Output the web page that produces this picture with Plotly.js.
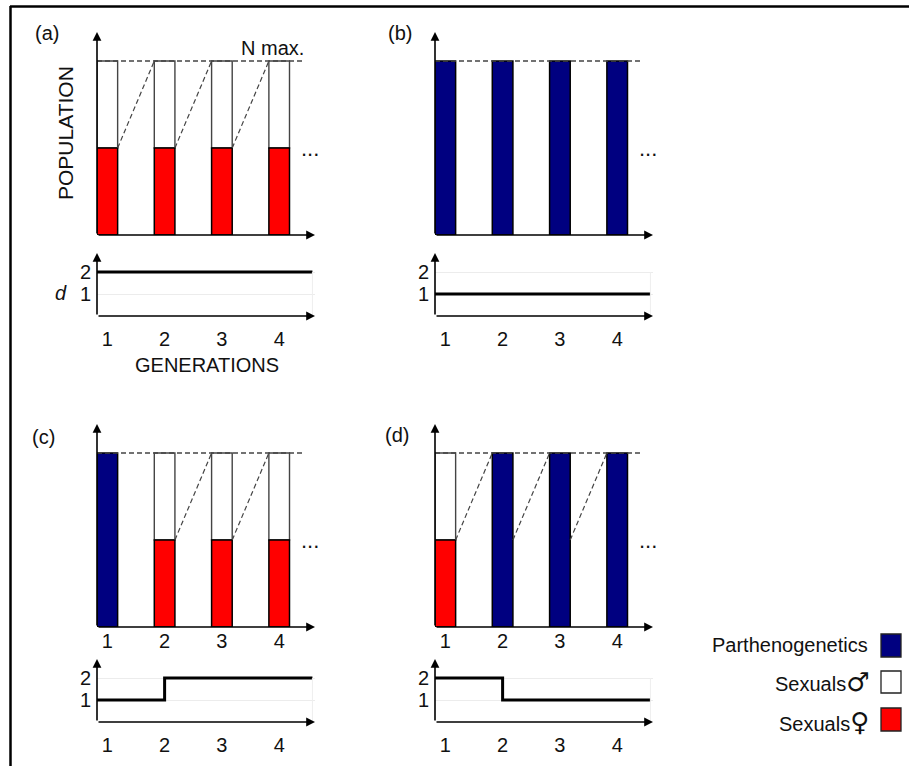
<!DOCTYPE html>
<html>
<head>
<meta charset="utf-8">
<script src="https://cdn.plot.ly/plotly-3.0.1.min.js"></script>
<style>html,body{margin:0;padding:0;background:#fff;}#chart{width:909px;height:766px;}</style>
</head>
<body>
<div id="chart"></div>
<script>
// ---- data ----
const generations = [1, 2, 3, 4];
const genTickLabels = ['1', '2', '3', '4'];
const dTickVals = [1, 2];
const dTickLabels = ['1', '2'];
const nMax = 1;
const femaleShare = 0.5;
// P = parthenogenetic, S = sexual (males + females)
const typesA = ['S', 'S', 'S', 'S'];
const typesB = ['P', 'P', 'P', 'P'];
const typesC = ['P', 'S', 'S', 'S'];
const typesD = ['S', 'P', 'P', 'P'];
const dA = [2, 2, 2, 2];
const dB = [1, 1, 1, 1];
const dC = [1, 2, 2, 2];
const dD = [2, 1, 1, 1];
// generations from which a regrowth (dashed) line starts
const linksA = [1, 2, 3];
const linksB = [];
const linksC = [2, 3];
const linksD = [1, 2, 3];
const panelLabels = ['(a)', '(b)', '(c)', '(d)'];
const legendLabels = ['Parthenogenetics', 'Sexuals', 'Sexuals'];

// ---- layout constants ----
const W = 909, H = 766;
const FONT = '"Liberation Sans", Arial, sans-serif';
const FS = 20;
const NAVY = '#000080', RED = '#ff0000';
const BW = 0.36;
const X0 = 0.82, X1 = 4.625;
const NMAX_END = 4.45, STEP_END = 4.58;
const TOP_YMAX = 203 / 174, BOT_YMAX = 63 / 22;

const px = (x) => x / W;
const py = (y) => 1 - y / H;

const panels = [
  {types: typesA, d: dA, links: linksA, top: 1, bot: 2, xl: 97, yt: [32, 235], yb: [253, 316], topTicks: false},
  {types: typesB, d: dB, links: linksB, top: 3, bot: 4, xl: 435, yt: [32, 235], yb: [253, 316], topTicks: false},
  {types: typesC, d: dC, links: linksC, top: 5, bot: 6, xl: 97, yt: [424, 627], yb: [659, 722], topTicks: true},
  {types: typesD, d: dD, links: linksD, top: 7, bot: 8, xl: 435, yt: [424, 627], yb: [659, 722], topTicks: true}
];

const ax = (n) => (n === 1 ? 'x' : 'x' + n);
const ay = (n) => (n === 1 ? 'y' : 'y' + n);
const axKey = (n) => (n === 1 ? 'xaxis' : 'xaxis' + n);
const ayKey = (n) => (n === 1 ? 'yaxis' : 'yaxis' + n);

const traces = [];
const annotations = [];
const shapes = [];
const layout = {
  width: W, height: H,
  margin: {l: 0, r: 0, t: 0, b: 0},
  paper_bgcolor: '#fff', plot_bgcolor: 'rgba(0,0,0,0)',
  showlegend: false, barmode: 'overlay',
  font: {family: FONT, size: FS, color: '#111'}
};

function arrow(n, x, y, x0, y0) {
  return {xref: ax(n), yref: ay(n), axref: ax(n), ayref: ay(n), x: x, y: y, ax: x0, ay: y0,
    text: '', showarrow: true, arrowhead: 2, arrowsize: 1.1, arrowwidth: 1.6, arrowcolor: '#000',
    standoff: 0, startstandoff: 0};
}

panels.forEach((p) => {
  const xd = [px(p.xl), px(p.xl + 218)];
  layout[axKey(p.top)] = {domain: xd, range: [X0, X1], anchor: ay(p.top), showgrid: false, zeroline: false,
    showline: false, ticks: '', tickvals: generations, ticktext: genTickLabels,
    showticklabels: p.topTicks, tickfont: {size: FS, color: '#111'}, ticklabelstandoff: 0, fixedrange: true};
  layout[ayKey(p.top)] = {domain: [py(p.yt[1]), py(p.yt[0])], range: [0, TOP_YMAX], anchor: ax(p.top),
    showgrid: false, zeroline: false, showline: false, showticklabels: false, ticks: '', fixedrange: true};
  layout[axKey(p.bot)] = {domain: xd, range: [X0, X1], anchor: ay(p.bot), showgrid: false, zeroline: false,
    showline: false, ticks: '', tickvals: generations, ticktext: genTickLabels,
    tickfont: {size: FS, color: '#111'}, ticklabelstandoff: 9, fixedrange: true};
  layout[ayKey(p.bot)] = {domain: [py(p.yb[1]), py(p.yb[0])], range: [0, BOT_YMAX], anchor: ax(p.bot),
    showgrid: true, gridcolor: '#ececec', gridwidth: 1, zeroline: false, showline: false, ticks: '',
    tickvals: dTickVals, ticktext: dTickLabels, tickfont: {size: FS, color: '#111'}, ticklabelstandoff: 5, fixedrange: true};

  const xP = generations.filter((g, i) => p.types[i] === 'P');
  const xS = generations.filter((g, i) => p.types[i] === 'S');
  if (xP.length) traces.push({type: 'bar', x: xP, y: xP.map(() => nMax), base: xP.map(() => 0), width: BW,
    xaxis: ax(p.top), yaxis: ay(p.top), marker: {color: NAVY, line: {color: '#000', width: 1.5}}, hoverinfo: 'skip'});
  if (xS.length) {
    traces.push({type: 'bar', x: xS, y: xS.map(() => nMax * (1 - femaleShare)), base: xS.map(() => nMax * femaleShare),
      width: BW, xaxis: ax(p.top), yaxis: ay(p.top), marker: {color: '#fff', line: {color: '#444', width: 1.4}}, hoverinfo: 'skip'});
    traces.push({type: 'bar', x: xS, y: xS.map(() => nMax * femaleShare), base: xS.map(() => 0), width: BW,
      xaxis: ax(p.top), yaxis: ay(p.top), marker: {color: RED, line: {color: '#000', width: 1.5}}, hoverinfo: 'skip'});
  }
  traces.push({type: 'scatter', mode: 'lines', x: [X0, NMAX_END], y: [nMax, nMax], xaxis: ax(p.top), yaxis: ay(p.top),
    line: {color: '#444', width: 1.3, dash: '5px,3px'}, cliponaxis: false, hoverinfo: 'skip'});
  if (p.links.length) {
    const lx = [], ly = [];
    p.links.forEach((g) => { lx.push(g + BW / 2, g + 1 - BW / 2, null); ly.push(nMax * femaleShare, nMax, null); });
    traces.push({type: 'scatter', mode: 'lines', x: lx, y: ly, xaxis: ax(p.top), yaxis: ay(p.top),
      line: {color: '#444', width: 1.2, dash: '5px,3px'}, cliponaxis: false, hoverinfo: 'skip'});
  }
  const sx = [X0].concat(generations.slice(1)).concat([STEP_END]);
  const sy = p.d.concat([p.d[p.d.length - 1]]);
  traces.push({type: 'scatter', mode: 'lines', x: sx, y: sy, line: {shape: 'hv', color: '#000', width: 3},
    xaxis: ax(p.bot), yaxis: ay(p.bot), cliponaxis: false, hoverinfo: 'skip'});
  shapes.push({type: 'line', xref: ax(p.bot), yref: ay(p.bot), x0: STEP_END, x1: STEP_END, y0: 0, y1: 2,
    line: {color: '#eeeeee', width: 1}});
  annotations.push(arrow(p.top, X1, 0, X0, 0));
  annotations.push(arrow(p.top, X0, TOP_YMAX, X0, 0));
  annotations.push(arrow(p.bot, X1, 0, X0, 0));
  annotations.push(arrow(p.bot, X0, BOT_YMAX, X0, 0));
  annotations.push({xref: ax(p.top), yref: ay(p.top), x: 4.53, y: nMax * femaleShare, text: '...', showarrow: false,
    font: {size: 22, color: '#111'}, xanchor: 'center', yanchor: 'middle'});
});

function txt(x, y, text, opts) {
  return Object.assign({xref: 'paper', yref: 'paper', x: px(x), y: py(y), text: text, showarrow: false,
    xanchor: 'center', yanchor: 'middle', font: {size: FS, color: '#111', family: FONT}}, opts || {});
}
annotations.push(txt(47, 33, panelLabels[0]));
annotations.push(txt(400, 33, panelLabels[1]));
annotations.push(txt(43, 437, panelLabels[2]));
annotations.push(txt(397, 435, panelLabels[3]));
annotations.push(txt(306, 48, 'N max.', {xanchor: 'right'}));
annotations.push(txt(65, 133, 'POPULATION', {textangle: -90, font: {size: 21, color: '#111', family: FONT}}));
annotations.push(txt(207, 365, 'GENERATIONS'));
annotations.push(txt(61, 293, '<i>d</i>'));
// legend
const SYM = '<span style="font-family:DejaVu Sans;font-size:26px;font-weight:bold">';
annotations.push(txt(870, 645, legendLabels[0], {xanchor: 'right'}));
annotations.push(txt(871, 682, legendLabels[1] + SYM + '♂</span>', {xanchor: 'right'}));
annotations.push(txt(871, 722, legendLabels[2] + SYM + '♀</span>', {xanchor: 'right'}));
const legendColors = [NAVY, '#fff', RED];
const legendY = [[634, 657], [671, 693], [708, 731]];
legendColors.forEach((c, i) => {
  shapes.push({type: 'rect', xref: 'paper', yref: 'paper', x0: px(881), x1: px(901), y0: py(legendY[i][1]), y1: py(legendY[i][0]),
    fillcolor: c, line: {color: '#222', width: 1.3}});
});
shapes.push({type: 'line', xref: 'paper', yref: 'paper', x0: px(10), x1: px(909), y0: py(6.5), y1: py(6.5), line: {color: '#000', width: 2.5}});
shapes.push({type: 'line', xref: 'paper', yref: 'paper', x0: px(10.5), x1: px(10.5), y0: py(6), y1: py(766), line: {color: '#000', width: 2.5}});

layout.annotations = annotations;
layout.shapes = shapes;
Plotly.newPlot('chart', traces, layout, {staticPlot: true, displayModeBar: false});
</script>
</body>
</html>
